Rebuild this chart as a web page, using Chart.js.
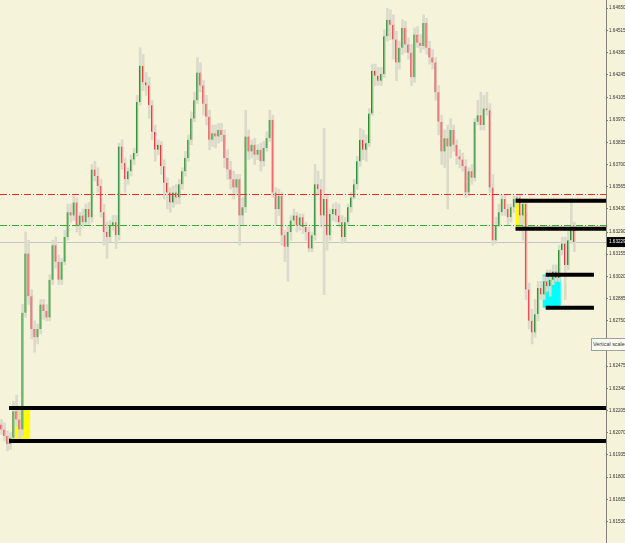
<!DOCTYPE html>
<html>
<head>
<meta charset="utf-8">
<script src="https://cdn.jsdelivr.net/npm/chart.js@4.4.1/dist/chart.umd.min.js"></script>
<style>
 body { margin: 0; background: #f5f3da; }
 #wrap { position: relative; width: 625px; height: 543px; overflow: hidden; }
 #vscale {
  position: absolute; left: 591px; top: 338px; width: 36px; height: 11px;
  background: #fbfbf2; border: 1px solid #a0a0a0; font: 5.4px 'Liberation Sans', sans-serif;
  color: #333; line-height: 11px; padding-left: 1px; white-space: nowrap;
 }
</style>
</head>
<body>
<div id="wrap">
 <canvas id="chart" width="625" height="543"></canvas>
 <div id="vscale">Vertical scale</div>
</div>
<script>
// candle OHLC
var opens = [1.6212,1.6209,1.6205,1.6200,1.6204,1.6220,1.6215,1.6209,1.6280,1.6316,
 1.6290,1.6270,1.6265,1.6270,1.6285,1.6281,1.6277,1.6300,1.6321,1.6311,
 1.6300,1.6311,1.6326,1.6341,1.6339,1.6347,1.6333,1.6339,1.6335,1.6343,
 1.6338,1.6367,1.6363,1.6357,1.6341,1.6329,1.6326,1.6333,1.6335,1.6327,
 1.6381,1.6371,1.6361,1.6366,1.6373,1.6377,1.6408,1.6430,1.6420,1.6418,
 1.6406,1.6390,1.6379,1.6382,1.6369,1.6359,1.6353,1.6347,1.6353,1.6350,
 1.6358,1.6366,1.6374,1.6385,1.6398,1.6409,1.6426,1.6418,1.6407,1.6399,
 1.6385,1.6389,1.6387,1.6391,1.6388,1.6374,1.6367,1.6361,1.6356,1.6361,
 1.6339,1.6344,1.6387,1.6378,1.6382,1.6376,1.6379,1.6372,1.6380,1.6386,
 1.6397,1.6353,1.6343,1.6351,1.6327,1.6320,1.6329,1.6336,1.6339,1.6333,
 1.6338,1.6332,1.6329,1.6319,1.6327,1.6358,1.6355,1.6339,1.6349,1.6327,
 1.6340,1.6343,1.6339,1.6335,1.6326,1.6335,1.6344,1.6350,1.6358,1.6372,
 1.6385,1.6379,1.6383,1.6401,1.6427,1.6424,1.6421,1.6425,1.6448,1.6458,
 1.6455,1.6446,1.6432,1.6441,1.6453,1.6443,1.6438,1.6423,1.6449,1.6444,
 1.6442,1.6456,1.6441,1.6435,1.6432,1.6414,1.6396,1.6378,1.6386,1.6381,
 1.6391,1.6382,1.6375,1.6373,1.6369,1.6353,1.6366,1.6362,1.6396,1.6400,
 1.6394,1.6404,1.6403,1.6356,1.6324,1.6333,1.6341,1.6349,1.6343,1.6338,
 1.6344,1.6349,1.6350,1.6339,1.6346,1.6294,1.6275,1.6268,1.6279,1.6295,
 1.6291,1.6299,1.6296,1.6300,1.6305,1.6301,1.6318,1.6322,1.6309,1.6324,1.6332];

var closes = [1.6209,1.6205,1.6200,1.6204,1.6220,1.6215,1.6209,1.6280,1.6316,1.6290,
 1.6270,1.6265,1.6270,1.6285,1.6281,1.6277,1.6300,1.6321,1.6311,1.6300,
 1.6311,1.6326,1.6341,1.6339,1.6347,1.6333,1.6339,1.6335,1.6343,1.6338,
 1.6367,1.6363,1.6357,1.6341,1.6329,1.6326,1.6333,1.6335,1.6327,1.6381,
 1.6371,1.6361,1.6366,1.6373,1.6377,1.6408,1.6430,1.6420,1.6418,1.6406,
 1.6390,1.6379,1.6382,1.6369,1.6359,1.6353,1.6347,1.6353,1.6350,1.6358,
 1.6366,1.6374,1.6385,1.6398,1.6409,1.6426,1.6418,1.6407,1.6399,1.6385,
 1.6389,1.6387,1.6391,1.6388,1.6374,1.6367,1.6361,1.6356,1.6361,1.6339,
 1.6344,1.6387,1.6378,1.6382,1.6376,1.6379,1.6372,1.6380,1.6386,1.6397,
 1.6353,1.6343,1.6351,1.6327,1.6320,1.6329,1.6336,1.6339,1.6333,1.6338,
 1.6332,1.6329,1.6319,1.6327,1.6358,1.6355,1.6339,1.6349,1.6327,1.6340,
 1.6343,1.6339,1.6335,1.6326,1.6335,1.6344,1.6350,1.6358,1.6372,1.6385,
 1.6379,1.6383,1.6401,1.6427,1.6424,1.6421,1.6425,1.6448,1.6458,1.6455,
 1.6446,1.6432,1.6441,1.6453,1.6443,1.6438,1.6423,1.6449,1.6444,1.6442,
 1.6456,1.6441,1.6435,1.6432,1.6414,1.6396,1.6378,1.6386,1.6381,1.6391,
 1.6382,1.6375,1.6373,1.6369,1.6353,1.6366,1.6362,1.6396,1.6400,1.6394,
 1.6404,1.6403,1.6356,1.6324,1.6333,1.6341,1.6349,1.6343,1.6338,1.6344,
 1.6349,1.6350,1.6339,1.6346,1.6294,1.6275,1.6268,1.6279,1.6295,1.6291,
 1.6299,1.6296,1.6300,1.6305,1.6301,1.6318,1.6322,1.6309,1.6324,1.6332,1.63229];

var highs = [1.6215,1.6213,1.6208,1.6207,1.6226,1.6230,1.6221,1.6285,1.6329,1.6324,
 1.6294,1.6275,1.6273,1.6288,1.6288,1.6285,1.6303,1.6324,1.6326,1.6315,
 1.6313,1.6330,1.6346,1.6346,1.6352,1.6350,1.6341,1.6343,1.6346,1.6347,
 1.6370,1.6372,1.6368,1.6361,1.6346,1.6335,1.6336,1.6339,1.6339,1.6383,
 1.6385,1.6374,1.6368,1.6376,1.6380,1.6412,1.6441,1.6437,1.6426,1.6423,
 1.6409,1.6394,1.6385,1.6384,1.6373,1.6362,1.6356,1.6357,1.6358,1.6361,
 1.6368,1.6378,1.6388,1.6402,1.6414,1.6435,1.6432,1.6421,1.6412,1.6403,
 1.6394,1.6394,1.6395,1.6395,1.6391,1.6379,1.6372,1.6366,1.6364,1.6364,
 1.6350,1.6403,1.6391,1.6385,1.6386,1.6382,1.6383,1.6384,1.6390,1.6403,
 1.6400,1.6356,1.6355,1.6353,1.6330,1.6333,1.6339,1.6343,1.6341,1.6340,
 1.6340,1.6335,1.6332,1.6329,1.6370,1.6366,1.6361,1.6392,1.6352,1.6343,
 1.6346,1.6347,1.6346,1.6339,1.6338,1.6346,1.6353,1.6361,1.6375,1.6392,
 1.6391,1.6388,1.6404,1.6431,1.6431,1.6429,1.6429,1.6452,1.6465,1.6464,
 1.6461,1.6451,1.6445,1.6458,1.6457,1.6447,1.6443,1.6453,1.6454,1.6449,
 1.6461,1.6459,1.6445,1.6440,1.6435,1.6418,1.6400,1.6391,1.6394,1.6398,
 1.6394,1.6385,1.6379,1.6377,1.6373,1.6368,1.6370,1.6398,1.6409,1.6414,
 1.6412,1.6414,1.6407,1.6364,1.6338,1.6346,1.6352,1.6352,1.6346,1.6346,
 1.6351,1.6352,1.6352,1.6349,1.6349,1.6298,1.6282,1.6288,1.6299,1.6299,
 1.6302,1.6306,1.6306,1.6309,1.6309,1.6321,1.6326,1.6326,1.6330,1.6349,1.6335];

var lows = [1.6206,1.6202,1.6196,1.6197,1.6202,1.6211,1.6203,1.6205,1.6277,1.6285,
 1.6264,1.6256,1.6261,1.6267,1.6276,1.6275,1.6275,1.6297,1.6307,1.6297,
 1.6297,1.6309,1.6324,1.6335,1.6336,1.6329,1.6327,1.6332,1.6333,1.6333,
 1.6335,1.6360,1.6353,1.6338,1.6321,1.6313,1.6323,1.6330,1.6319,1.6324,
 1.6367,1.6353,1.6358,1.6363,1.6370,1.6375,1.6406,1.6415,1.6412,1.6398,
 1.6385,1.6372,1.6376,1.6364,1.6349,1.6343,1.6341,1.6344,1.6346,1.6346,
 1.6355,1.6363,1.6372,1.6382,1.6396,1.6407,1.6414,1.6400,1.6394,1.6379,
 1.6381,1.6380,1.6383,1.6384,1.6368,1.6361,1.6355,1.6349,1.6351,1.6321,
 1.6333,1.6341,1.6373,1.6374,1.6370,1.6373,1.6366,1.6369,1.6378,1.6384,
 1.6350,1.6333,1.6339,1.6321,1.6311,1.6299,1.6324,1.6333,1.6329,1.6330,
 1.6328,1.6324,1.6317,1.6317,1.6324,1.6352,1.6332,1.6291,1.6318,1.6324,
 1.6336,1.6335,1.6332,1.6322,1.6323,1.6333,1.6341,1.6349,1.6355,1.6369,
 1.6373,1.6372,1.6381,1.6400,1.6418,1.6418,1.6418,1.6423,1.6445,1.6446,
 1.6434,1.6421,1.6428,1.6437,1.6438,1.6434,1.6418,1.6420,1.6441,1.6438,
 1.6440,1.6437,1.6431,1.6428,1.6409,1.6388,1.6370,1.6368,1.6343,1.6374,
 1.6378,1.6370,1.6368,1.6366,1.6350,1.6351,1.6358,1.6360,1.6394,1.6391,
 1.6391,1.6400,1.6353,1.6321,1.6322,1.6332,1.6339,1.6339,1.6333,1.6335,
 1.6341,1.6346,1.6333,1.6324,1.6288,1.6270,1.6261,1.6265,1.6275,1.6288,
 1.6288,1.6293,1.6290,1.6297,1.6299,1.6299,1.6315,1.6288,1.6306,1.6322,1.6317];

// price scale on the right
var tickValues = [1.64650,1.64515,1.64380,1.64245,1.64105,1.63970,1.63835,1.63700,1.63565,1.63430,
 1.63290,1.63155,1.63020,1.62885,1.62750,1.62610,1.62475,1.62340,1.62205,1.62070,
 1.61935,1.61800,1.61665,1.61530];
var priceMin = 1.6140, priceMax = 1.6470;
var bid = 1.63229;

// dash-dot levels
var redLevel = 1.63522, greenLevel = 1.63334;

// thick black lines: price, first bar, last bar (null = to the axis)
var lineLevels = [1.6348, 1.6331, 1.6303, 1.6283, 1.6222, 1.6202];
var lineFrom = [171, 171, 181, 181, 3, 3];
var lineTo = [null, null, 196, 196, null, null];

// shaded boxes: first bar, last bar, top, bottom
var boxFrom = [4, 171, 180];
var boxTo = [9, 174, 185];
var boxTop = [1.6222, 1.6348, 1.6303];
var boxBottom = [1.6202, 1.6331, 1.6283];
var boxColors = ['#ffff00', '#ffff00', '#00ffff'];

var slots = 201;
var bars = [];
for (var i = 0; i < slots; i++) bars.push(String(i));

var upFill = '#86c486', upEdge = '#2e8b2e', dnFill = '#f3a3a3', dnEdge = '#e03c3c';

function hline(ctx, x0, x1, yy, color, dash) {
 ctx.strokeStyle = color;
 ctx.setLineDash(dash);
 ctx.beginPath();
 ctx.moveTo(x0, yy);
 ctx.lineTo(x1, yy);
 ctx.stroke();
}

var overlay = {
 id: 'overlay',
 beforeDatasetsDraw: function(chart) {
  var ctx = chart.ctx, area = chart.chartArea, x = chart.scales.x, y = chart.scales.y;
  var half = x.width / slots / 2;
  ctx.save();
  for (var k = 0; k < boxFrom.length; k++) {
   var x0 = x.getPixelForValue(boxFrom[k]) - half;
   var x1 = x.getPixelForValue(boxTo[k]) + half;
   var y0 = y.getPixelForValue(boxTop[k]);
   var y1 = y.getPixelForValue(boxBottom[k]);
   ctx.fillStyle = boxColors[k];
   ctx.fillRect(x0, y0, x1 - x0, y1 - y0);
  }
  ctx.lineWidth = 1;
  hline(ctx, area.left, area.right, Math.round(y.getPixelForValue(bid)) + 0.5, '#c4c4c4', []);
  ctx.restore();
 },
 afterDatasetsDraw: function(chart) {
  var ctx = chart.ctx, area = chart.chartArea, x = chart.scales.x, y = chart.scales.y;
  var half = x.width / slots / 2;
  ctx.save();
  ctx.lineWidth = 1;
  hline(ctx, area.left, area.right, Math.round(y.getPixelForValue(redLevel)) + 0.5, 'rgb(255,40,40)', [7, 2, 1, 2]);
  hline(ctx, area.left, area.right, Math.round(y.getPixelForValue(greenLevel)) + 0.5, 'rgb(50,175,50)', [7, 2, 1, 2]);
  ctx.lineWidth = 4;
  for (var k = 0; k < lineLevels.length; k++) {
   var xa = x.getPixelForValue(lineFrom[k]) - half;
   var xb = lineTo[k] === null ? area.right : x.getPixelForValue(lineTo[k]) + half;
   hline(ctx, xa, xb, y.getPixelForValue(lineLevels[k]), '#000', []);
  }
  ctx.restore();
 },
 afterDraw: function(chart) {
  var ctx = chart.ctx, area = chart.chartArea, y = chart.scales.y;
  var yb = y.getPixelForValue(bid);
  ctx.save();
  ctx.fillStyle = '#000';
  ctx.fillRect(area.right + 1, yb - 5, chart.width - area.right - 1, 10);
  ctx.fillStyle = '#fff';
  ctx.font = '4.6px "Liberation Sans", sans-serif';
  ctx.textBaseline = 'middle';
  ctx.fillText(bid.toFixed(5), area.right + 3, yb);
  ctx.restore();
 }
};

var chart = new Chart(document.getElementById('chart'), {
 type: 'bar',
 data: {
  labels: bars,
  datasets: [
   {
    data: lows.map(function(l, i) { return [l, highs[i]]; }),
    backgroundColor: '#dcdbcb',
    barThickness: 2,
    grouped: false,
    order: 2
   },
   {
    data: opens.map(function(o, i) { return [o, closes[i]]; }),
    backgroundColor: opens.map(function(o, i) { return closes[i] >= o ? upFill : dnFill; }),
    borderColor: opens.map(function(o, i) { return closes[i] >= o ? upEdge : dnEdge; }),
    borderWidth: { left: 1, right: 0, top: 0, bottom: 0 },
    borderSkipped: false,
    barThickness: 2,
    minBarLength: 1,
    grouped: false,
    order: 1
   }
  ]
 },
 options: {
  responsive: false,
  maintainAspectRatio: false,
  animation: false,
  devicePixelRatio: 1,
  layout: { padding: 0 },
  plugins: { legend: { display: false }, tooltip: { enabled: false } },
  scales: {
   x: { display: false, offset: true },
   y: {
    position: 'right',
    min: priceMin,
    max: priceMax,
    afterBuildTicks: function(scale) {
     scale.ticks = tickValues.map(function(v) { return { value: v }; });
    },
    afterFit: function(scale) {
     scale.width = 19;
     scale.paddingTop = 0;
     scale.paddingBottom = 0;
    },
    grid: { drawOnChartArea: false, drawTicks: true, tickLength: 2, color: '#808080' },
    border: { display: true, color: '#808080' },
    ticks: {
     color: '#333',
     padding: 1,
     font: { size: 4.6, family: 'Liberation Sans' },
     callback: function(v) { return Number(v).toFixed(5); }
    }
   }
  }
 },
 plugins: [overlay]
});
</script>
</body>
</html>
